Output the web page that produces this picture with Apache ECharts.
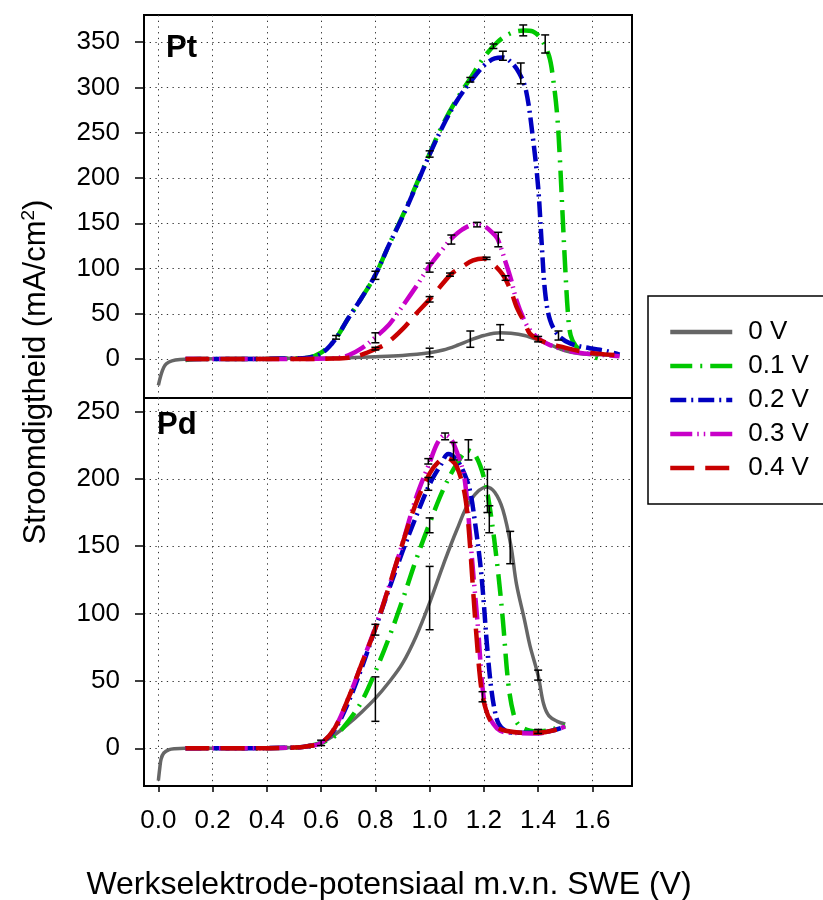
<!DOCTYPE html>
<html>
<head>
<meta charset="utf-8">
<script src="https://cdn.jsdelivr.net/npm/echarts@6/dist/echarts.min.js"></script>
<style>
  html, body { margin: 0; padding: 0; background: #fff; }
  #chart { width: 823px; height: 900px; }
</style>
</head>
<body>
<div id="chart"></div>
<script>
// Potential axis ticks (V) and current-density ticks (mA/cm2)
const xTicks = [0.0, 0.2, 0.4, 0.6, 0.8, 1.0, 1.2, 1.4, 1.6];
const ptTicks = [0, 50, 100, 150, 200, 250, 300, 350];
const pdTicks = [0, 50, 100, 150, 200, 250];
const seriesNames = ['0 V', '0.1 V', '0.2 V', '0.3 V', '0.4 V'];

// Pt electrode: [potential, current density]
const ptV0 = [[0,-29],[0.01,-17],[0.02,-9],[0.03,-5],[0.05,-2],[0.08,-0.5],[0.12,0],[0.3,0.5],[0.5,0.8],[0.6,1],[0.7,1.5],[0.8,2.5],[0.9,4],[1.0,7],[1.05,10],[1.1,15],[1.15,21],[1.2,26],[1.26,29],[1.3,28.5],[1.35,26],[1.4,21],[1.45,15],[1.5,9],[1.55,6],[1.6,5],[1.65,4.5],[1.7,4]];
const ptV1 = [[0.1,-1],[0.15,0],[0.3,0],[0.45,0.5],[0.55,1.5],[0.6,7],[0.65,21],[0.7,45],[0.75,68],[0.8,93],[0.85,126],[0.9,158],[0.95,192],[1.0,227],[1.05,260],[1.1,287],[1.15,310],[1.2,333],[1.25,350],[1.3,360],[1.35,363],[1.38,362],[1.41,354],[1.44,335],[1.455,310],[1.47,270],[1.48,222],[1.49,160],[1.5,100],[1.51,50],[1.52,26],[1.54,14],[1.57,8],[1.6,3],[1.62,1]];
const ptV2 = [[0.1,0],[0.3,0],[0.45,0.5],[0.55,1.5],[0.6,6],[0.65,21],[0.7,45],[0.75,68],[0.8,93],[0.85,126],[0.9,157],[0.95,191],[1.0,226],[1.05,258],[1.1,285],[1.15,306],[1.2,324],[1.24,332],[1.27,333],[1.3,328],[1.33,316],[1.355,297],[1.38,246],[1.4,190],[1.413,128],[1.426,73],[1.444,43],[1.475,26],[1.52,17],[1.59,12],[1.65,9],[1.7,5]];
const ptV3 = [[0.1,0],[0.3,0],[0.5,0],[0.65,1],[0.7,4],[0.75,12],[0.8,24],[0.85,38],[0.88,50],[0.95,80],[1.0,103],[1.05,122],[1.08,133],[1.12,143],[1.17,149],[1.2,147],[1.23,140],[1.25,133],[1.28,107],[1.3,88],[1.32,65],[1.35,42],[1.37,32],[1.4,23],[1.44,16],[1.5,10],[1.55,7],[1.62,5],[1.7,3]];
const ptV4 = [[0.1,0],[0.3,0],[0.5,0],[0.65,0.5],[0.7,1.5],[0.75,5],[0.8,11],[0.84,17],[0.9,33],[0.95,50],[1.0,66],[1.05,84],[1.08,94],[1.12,102],[1.16,109],[1.2,111],[1.23,106],[1.27,93],[1.3,75],[1.32,58],[1.35,40],[1.37,28],[1.4,22],[1.44,17],[1.48,14],[1.55,9],[1.62,6],[1.7,4]];
// Pt error bars: [potential, low, high]
const ptErr = [[0.655,22,26],[0.8,88,97],[0.8,18,29],[0.8,10,13],[1.0,223,230],[1.0,96,106],[1.0,63,69],[1.0,2.5,12],[1.08,127,137],[1.075,91.5,95],[1.15,306,311],[1.15,13,31],[1.175,146,151],[1.21,110,112.5],[1.235,343,348],[1.26,21,38],[1.27,330,340],[1.253,124,140],[1.28,87,92],[1.345,357,369],[1.336,304,327],[1.40,19,25],[1.426,338,358],[1.475,21,31]];

// Pd electrode: [potential, current density]
const pdV0 = [[0,-24],[0.005,-15],[0.01,-8],[0.02,-3.5],[0.04,-1],[0.06,-0.3],[0.1,0],[0.3,0],[0.5,0.5],[0.55,1.5],[0.6,4],[0.65,10],[0.7,18],[0.75,27],[0.8,37],[0.85,49],[0.9,63],[0.95,83],[1.0,108],[1.05,136],[1.1,162],[1.15,184],[1.21,194],[1.24,190],[1.27,177],[1.3,150],[1.32,122],[1.35,95],[1.37,76],[1.4,54],[1.42,33],[1.44,24],[1.47,20],[1.5,18]];
const pdV1 = [[0.1,0],[0.3,0],[0.5,0.5],[0.55,1.5],[0.6,4],[0.65,9],[0.7,20],[0.75,35],[0.8,57],[0.85,82],[0.9,110],[0.95,140],[1.0,167],[1.05,192],[1.1,211],[1.143,221],[1.17,217],[1.2,201],[1.223,177],[1.25,135],[1.27,95],[1.29,48],[1.31,25],[1.33,17],[1.37,13],[1.4,12.5],[1.45,14],[1.5,17]];
const pdV2 = [[0.1,0],[0.3,0],[0.5,0.5],[0.55,1.5],[0.6,4],[0.65,14],[0.7,34],[0.75,60],[0.8,89],[0.85,118],[0.9,146],[0.95,172],[1.0,196],[1.04,210],[1.069,218.5],[1.1,214],[1.13,203],[1.15,190],[1.167,168],[1.186,138],[1.198,112],[1.21,80],[1.225,48],[1.24,28],[1.255,18],[1.28,13],[1.32,11.5],[1.4,11.5],[1.45,13],[1.5,16]];
const pdV3 = [[0.1,0],[0.3,0],[0.5,0.5],[0.55,1.5],[0.6,4],[0.65,15],[0.7,37],[0.75,63],[0.8,90],[0.85,120],[0.9,152],[0.95,186],[1.0,212],[1.03,227],[1.057,232.5],[1.08,229],[1.1,220],[1.124,205],[1.137,186],[1.15,155],[1.165,120],[1.18,85],[1.195,45],[1.21,28],[1.235,18],[1.26,13],[1.3,11.5],[1.4,11],[1.45,13],[1.5,16]];
const pdV4 = [[0.1,0],[0.3,0],[0.5,0.5],[0.55,1.5],[0.6,4],[0.65,15],[0.7,37],[0.75,63],[0.8,89],[0.85,120],[0.9,152],[0.95,182],[1.0,204],[1.03,212],[1.06,215.5],[1.08,214],[1.1,209],[1.124,194],[1.137,178],[1.149,150],[1.16,118],[1.172,85],[1.186,52],[1.198,36],[1.22,22],[1.245,16],[1.28,13],[1.35,11.5],[1.4,11.5],[1.45,13],[1.5,15.5]];
// Pd error bars: [potential, low, high]
const pdErr = [[0.6,2,6],[0.8,20,53],[0.8,84,92],[1.0,88,135],[1.0,160,171],[0.995,191.5,201],[0.995,211,215],[1.057,229,234],[1.088,214,227],[1.143,214,229],[1.213,175,207],[1.22,160,180],[1.297,137,161],[1.195,34.5,42],[1.4,50.6,58],[1.4,11,14]];

const FONT = '"Liberation Sans", Arial, sans-serif';
const colors = ['#666666', '#00c800', '#0000c0', '#c800c8', '#c80000'];
const widths = [3.5, 4.5, 4.5, 4.5, 4.5];
const dashes = ['solid', [22, 8, 2, 8], [16, 5, 2, 5], [22, 5, 1.5, 5, 1.5, 5], [24, 11]];

const ptData = [ptV0, ptV1, ptV2, ptV3, ptV4];
const pdData = [pdV0, pdV1, pdV2, pdV3, pdV4];

const X_MIN = -0.053, X_MAX = 1.746;

function lineSeries(data, i, axisIdx) {
  return {
    type: 'line',
    name: seriesNames[i],
    xAxisIndex: axisIdx,
    yAxisIndex: axisIdx,
    data: data,
    symbol: 'none',
    showSymbol: false,
    smooth: 0.35,
    clip: true,
    lineStyle: { color: colors[i], width: widths[i], type: dashes[i], cap: 'butt', join: 'round' },
    itemStyle: { color: colors[i] },
    emphasis: { disabled: true },
    z: 2 + i
  };
}

function renderErr(params, api) {
  const x = api.value(0);
  const a = api.coord([x, api.value(1)]);
  const b = api.coord([x, api.value(2)]);
  const w = 4;
  const style = { stroke: '#000', lineWidth: 1.5, fill: null };
  return {
    type: 'group',
    children: [
      { type: 'line', shape: { x1: a[0], y1: a[1], x2: b[0], y2: b[1] }, style: style },
      { type: 'line', shape: { x1: a[0] - w, y1: a[1], x2: a[0] + w, y2: a[1] }, style: style },
      { type: 'line', shape: { x1: b[0] - w, y1: b[1], x2: b[0] + w, y2: b[1] }, style: style }
    ]
  };
}

function errSeries(data, axisIdx) {
  return {
    type: 'custom',
    name: 'err' + axisIdx,
    xAxisIndex: axisIdx,
    yAxisIndex: axisIdx,
    data: data,
    renderItem: renderErr,
    encode: { x: 0, y: [1, 2] },
    silent: true,
    z: 10
  };
}

const dotted = { show: true, lineStyle: { color: '#333', width: 1, type: [1.3, 4.4] } };

function xAxis(gridIndex, showLabels) {
  return {
    type: 'value', gridIndex: gridIndex, min: X_MIN, max: X_MAX,
    axisLine: { show: showLabels, onZero: false, lineStyle: { color: '#000', width: 2 } },
    axisTick: { show: showLabels, customValues: xTicks, length: 6, lineStyle: { color: '#000', width: 1.5 } },
    axisLabel: { show: showLabels, customValues: xTicks, margin: 22, fontSize: 26, color: '#000', fontFamily: FONT,
      formatter: v => v.toFixed(1) },
    splitLine: dotted
  };
}

function yAxis(gridIndex, min, max, ticks) {
  return {
    type: 'value', gridIndex: gridIndex, min: min, max: max,
    axisLine: { show: true, onZero: false, lineStyle: { color: '#000', width: 2 } },
    axisTick: { show: true, customValues: ticks, length: 9, lineStyle: { color: '#000', width: 1.5 } },
    axisLabel: { show: true, customValues: ticks, margin: 24, fontSize: 26, color: '#000', fontFamily: FONT,
      formatter: v => String(Math.round(v)) },
    splitLine: dotted
  };
}

const series = [];
ptData.forEach((d, i) => series.push(lineSeries(d, i, 0)));
pdData.forEach((d, i) => series.push(lineSeries(d, i, 1)));
series.push(errSeries(ptErr, 0));
series.push(errSeries(pdErr, 1));

const chart = echarts.init(document.getElementById('chart'), null, { renderer: 'canvas' });
chart.setOption({
  backgroundColor: '#fff',
  animation: false,
  textStyle: { fontFamily: FONT },
  grid: [
    { left: 144, top: 15, width: 488, height: 383, show: true, borderColor: '#000', borderWidth: 2, backgroundColor: 'transparent' },
    { left: 144, top: 398, width: 488, height: 388, show: true, borderColor: '#000', borderWidth: 2, backgroundColor: 'transparent' }
  ],
  xAxis: [xAxis(0, false), xAxis(1, true)],
  yAxis: [yAxis(0, -43, 380, ptTicks), yAxis(1, -28, 260, pdTicks)],
  legend: {
    data: seriesNames,
    orient: 'vertical',
    left: 648, top: 296,
    padding: [23, 15, 23, 20],
    itemWidth: 62, itemHeight: 14, itemGap: 8,
    borderColor: '#000', borderWidth: 1.5,
    selectedMode: false,
    itemStyle: { opacity: 0 },
    lineStyle: { width: 4.5 },
    textStyle: { fontSize: 26, lineHeight: 26, color: '#000', fontFamily: FONT, padding: [0, 0, 0, 11] }
  },
  graphic: [
    { type: 'text', left: 166, top: 33, style: { text: 'Pt', font: 'bold 31px ' + FONT, fill: '#000' } },
    { type: 'text', left: 157, top: 410, style: { text: 'Pd', font: 'bold 31px ' + FONT, fill: '#000' } },
    { type: 'text', x: 389, y: 885, style: { text: 'Werkselektrode-potensiaal m.v.n. SWE (V)', font: '32px ' + FONT, fill: '#000', align: 'center', verticalAlign: 'middle' } },
    { type: 'text', x: 36, y: 372, rotation: Math.PI / 2,
      style: {
        text: '{a|Stroomdigtheid (mA/cm}{s|2}{a|)}',
        align: 'center', verticalAlign: 'middle',
        rich: {
          a: { fontSize: 31, fontFamily: FONT, fill: '#000', lineHeight: 34 },
          s: { fontSize: 19, fontFamily: FONT, fill: '#000', verticalAlign: 'top', lineHeight: 34 }
        }
      } }
  ],
  series: series
});
</script>
</body>
</html>
